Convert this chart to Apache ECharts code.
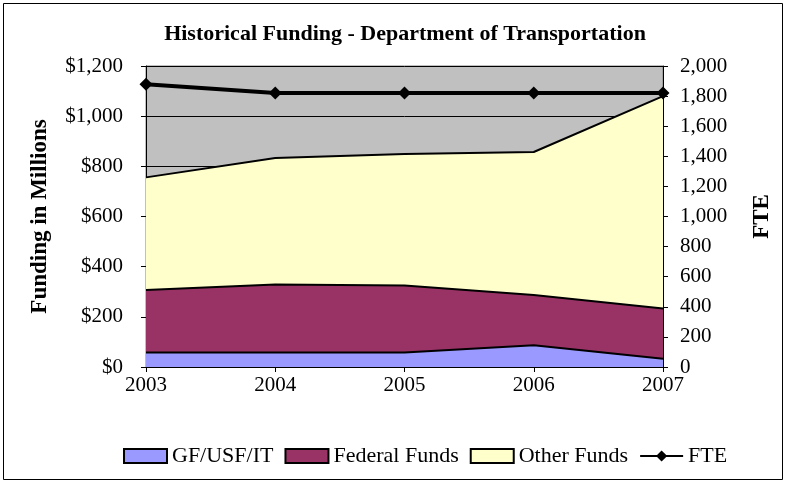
<!DOCTYPE html>
<html>
<head>
<meta charset="utf-8">
<script src="https://cdn.jsdelivr.net/npm/echarts@6/dist/echarts.min.js"></script>
<style>
  html, body { margin: 0; padding: 0; background: #fff; }
  #chart { width: 789px; height: 482px; }
</style>
</head>
<body>
<div id="chart"></div>
<script>
// data
var years = ['2003', '2004', '2005', '2006', '2007'];
var gfFunds = [58, 58, 58, 87, 33];
var federalFunds = [249, 271, 267, 200, 200];
var otherFunds = [449, 504, 524, 570, 847];
var fte = [1878, 1820, 1820, 1820, 1820];

(function() {
  var serif = '"Liberation Serif", "Times New Roman", serif';
  var ink = '#000';
  var fontSize = 21;

  var chart = echarts.init(document.getElementById('chart'), null, { renderer: 'canvas' });

  function money(v) {
    return '$' + v.toLocaleString('en-US');
  }

  function areaSeries(name, data, fill) {
    return {
      name: name,
      type: 'line',
      stack: 'funds',
      data: data,
      symbol: 'none',
      lineStyle: { color: ink, width: 2 },
      itemStyle: { color: fill, borderColor: ink, borderWidth: 2 },
      areaStyle: { color: fill, opacity: 1 }
    };
  }

  function legendBox(name) {
    return { name: name, icon: 'rect', itemStyle: { borderColor: ink, borderWidth: 2 } };
  }

  chart.setOption({
    animation: false,
    title: {
      text: 'Historical Funding - Department of Transportation',
      left: 400,
      textAlign: 'center',
      top: 18,
      textStyle: { fontFamily: serif, fontSize: 22, fontWeight: 'bold', color: ink }
    },
    legend: {
      left: 118,
      top: 440,
      itemWidth: 43,
      itemHeight: 14,
      itemGap: 11,
      textStyle: { fontFamily: serif, fontSize: 22, color: ink },
      data: [
        legendBox('GF/USF/IT'),
        legendBox('Federal Funds'),
        legendBox('Other Funds'),
        'FTE'
      ]
    },
    grid: {
      left: 146, right: 126, top: 66, bottom: 115,
      show: true,
      backgroundColor: '#C0C0C0',
      borderColor: '#808080',
      borderWidth: 1
    },
    xAxis: {
      type: 'category',
      data: years,
      boundaryGap: false,
      axisLine: { lineStyle: { color: ink, width: 1 } },
      axisTick: { show: true, length: 5, lineStyle: { color: ink } },
      axisLabel: { color: ink, fontFamily: serif, fontSize: fontSize, margin: 8 },
      splitLine: { show: false }
    },
    yAxis: [
      {
        type: 'value',
        min: 0, max: 1200, interval: 200,
        name: 'Funding in Millions',
        nameLocation: 'middle',
        nameRotate: 90,
        nameGap: 94,
        nameTextStyle: { fontFamily: serif, fontSize: 23, fontWeight: 'bold', color: ink },
        axisLine: { show: true, lineStyle: { color: ink, width: 1 } },
        axisTick: { show: true, length: 5, lineStyle: { color: ink } },
        axisLabel: { color: ink, fontFamily: serif, fontSize: fontSize, margin: 23, formatter: money },
        splitLine: { show: true, lineStyle: { color: ink, width: 1 } }
      },
      {
        type: 'value',
        position: 'right',
        min: 0, max: 2000, interval: 200,
        name: 'FTE',
        nameLocation: 'middle',
        nameRotate: 90,
        nameGap: 88,
        nameTextStyle: { fontFamily: serif, fontSize: 23, fontWeight: 'bold', color: ink },
        axisLine: { show: true, lineStyle: { color: ink, width: 1 } },
        axisTick: { show: true, length: 5, lineStyle: { color: ink } },
        axisLabel: {
          color: ink, fontFamily: serif, fontSize: fontSize, margin: 17,
          formatter: function(v) { return v.toLocaleString('en-US'); }
        },
        splitLine: { show: false }
      }
    ],
    series: [
      areaSeries('GF/USF/IT', gfFunds, '#9999FF'),
      areaSeries('Federal Funds', federalFunds, '#993366'),
      areaSeries('Other Funds', otherFunds, '#FFFFCC'),
      {
        name: 'FTE',
        type: 'line',
        yAxisIndex: 1,
        data: fte,
        symbol: 'diamond',
        symbolSize: 13,
        lineStyle: { color: ink, width: 4 },
        itemStyle: { color: ink }
      }
    ],
    graphic: [{
      type: 'rect',
      shape: { x: 3.5, y: 3.5, width: 779, height: 476 },
      style: { fill: null, stroke: ink, lineWidth: 1 },
      silent: true
    }]
  });
  window.addEventListener('resize', function() { chart.resize(); });
})();
</script>
</body>
</html>
